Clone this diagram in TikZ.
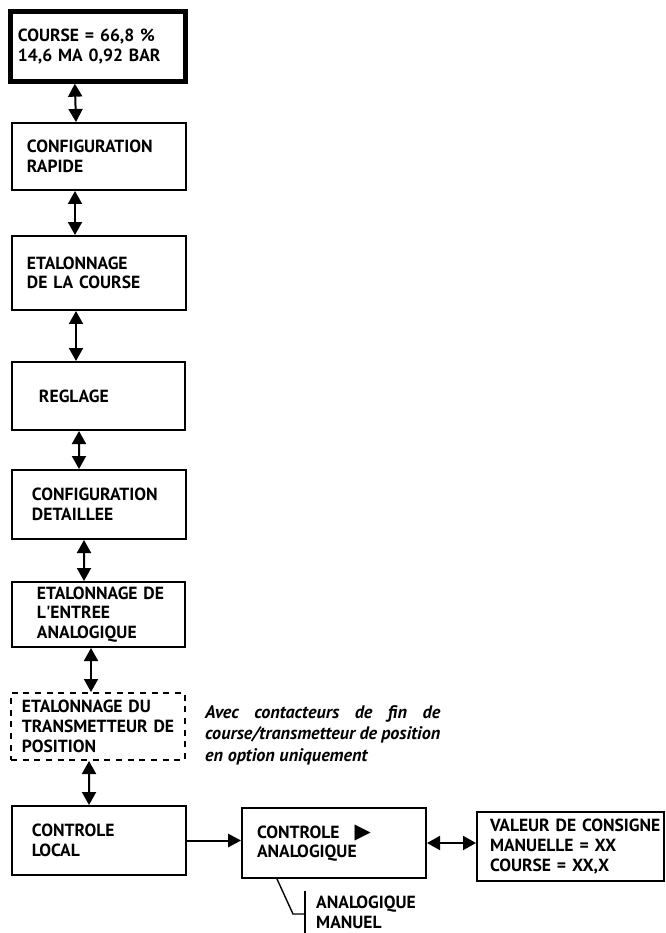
\documentclass[tikz,border=0pt]{standalone}
\usepackage{fontspec}
\setmainfont{PT Sans}
\newfontfamily\symfont{DejaVu Sans}
\usetikzlibrary{arrows.meta,positioning,calc}

\begin{document}
\begin{tikzpicture}[x=0.03cm, y=-0.03cm,
    menu/.style={rectangle, draw, line width=1.7pt, minimum width=5.22cm, align=left, font=\bfseries\fontsize{15pt}{16.8pt}\selectfont},
    optbox/.style={menu, dash pattern=on 0.18cm off 0.17cm},
    dblarrow/.style={line width=1.7pt, {Triangle[width=0.42cm,length=0.39cm]}-{Triangle[width=0.42cm,length=0.39cm]}},
    onearrow/.style={line width=1.7pt, -{Triangle[width=0.4cm,length=0.39cm]}},
    note/.style={align=justify, text width=7.05cm, inner sep=0pt, font=\bfseries\itshape\fontsize{15.5pt}{18.3pt}\selectfont},
]
    \useasboundingbox (0,0) rectangle (665,933);

    \node[menu, line width=0.13cm, minimum width=5.25cm, minimum height=2.1cm, inner xsep=0.225cm, text width=4.8cm] (course) at (98,46.5) {\mbox{COURSE = 66,8 \%}\\\mbox{14,6 MA 0,92 BAR}};
    \node[menu, minimum height=2.01cm, inner xsep=0.45cm, text width=4.32cm] (rapide) at (99,156.5) {CONFIGURATION\\RAPIDE};
    \node[menu, minimum height=2.22cm, inner xsep=0.45cm, text width=4.32cm] (etal) at (99,273) {ETALONNAGE\\\mbox{DE LA COURSE}};
    \node[menu, minimum width=5.19cm, minimum height=2.04cm, inner xsep=0.81cm, text width=3.57cm] (reglage) at (98.5,396) {REGLAGE};
    \node[menu, minimum height=2.07cm, inner xsep=0.6cm, text width=4.02cm] (detail) at (99,504.5) {CONFIGURATION\\DETAILLEE};
    \node[menu, minimum width=5.19cm, minimum height=1.95cm, inner xsep=0.75cm, text width=3.69cm] (entree) at (98.5,614.5) {\mbox{ETALONNAGE DE}\\L\textquotesingle ENTREE\\ANALOGIQUE};
    \node[optbox, minimum height=2.01cm, inner xsep=0.33cm, text width=4.56cm] (transm) at (98,726.5) {\mbox{ETALONNAGE DU}\\\mbox{TRANSMETTEUR DE}\\POSITION};
    \node[note, anchor=west] (remark) at (205,735) {Avec contacteurs de fin de\linebreak course/transmetteur de position\linebreak en option uniquement};
    \node[menu, minimum height=2.07cm, inner xsep=0.6cm, text width=4.02cm] (local) at (99,840.5) {CONTROLE\\LOCAL};
    \node[menu, minimum width=5.52cm, minimum height=2.1cm, inner xsep=0.45cm, text width=4.62cm] (analog) at (334,843) {CONTROLE\hspace{0.45cm}{\symfont\fontsize{18pt}{16.8pt}\selectfont ▶}\\ANALOGIQUE};
    \node[menu, minimum width=5.61cm, minimum height=2.07cm, inner xsep=0.39cm, text width=4.83cm] (valeur) at (570.5,846.5) {\mbox{VALEUR DE CONSIGNE}\\\mbox{MANUELLE = XX}\\\mbox{COURSE = XX,X}};
    \node[align=left, anchor=west, inner xsep=0.33cm, minimum height=1.23cm, font=\bfseries\fontsize{15pt}{16.8pt}\selectfont] (mode) at (305,912) {ANALOGIQUE\\MANUEL};
    \coordinate (bend) at (293,914);

    \draw[dblarrow] ([xshift=1.995cm]course.south west) -- ([xshift=1.95cm]rapide.north west);
    \draw[dblarrow] ([xshift=1.92cm]rapide.south west) -- ([xshift=1.92cm]etal.north west);
    \draw[dblarrow] ([xshift=1.95cm]etal.south west) -- ([xshift=1.95cm]reglage.north west);
    \draw[dblarrow] ([xshift=2.04cm]reglage.south west) -- ([xshift=2.04cm]detail.north west);
    \draw[dblarrow] ([xshift=2.19cm]detail.south west) -- ([xshift=2.19cm]entree.north west);
    \draw[dblarrow] ([xshift=2.4cm]entree.south west) -- ([xshift=2.43cm]transm.north west);
    \draw[dblarrow] ([xshift=2.37cm]transm.south west) -- ([xshift=2.34cm]local.north west);
    \draw[onearrow] (local.east) -- (local.east -| analog.west);
    \draw[dblarrow] (analog.east) -- (analog.east -| valeur.west);
    \draw[line width=1.2pt] ([xshift=1.08cm]analog.south west) -- (bend) -- (bend -| mode.west);
    \draw[line width=1.2pt] (mode.north west) -- (mode.south west);
\end{tikzpicture}
\end{document}
